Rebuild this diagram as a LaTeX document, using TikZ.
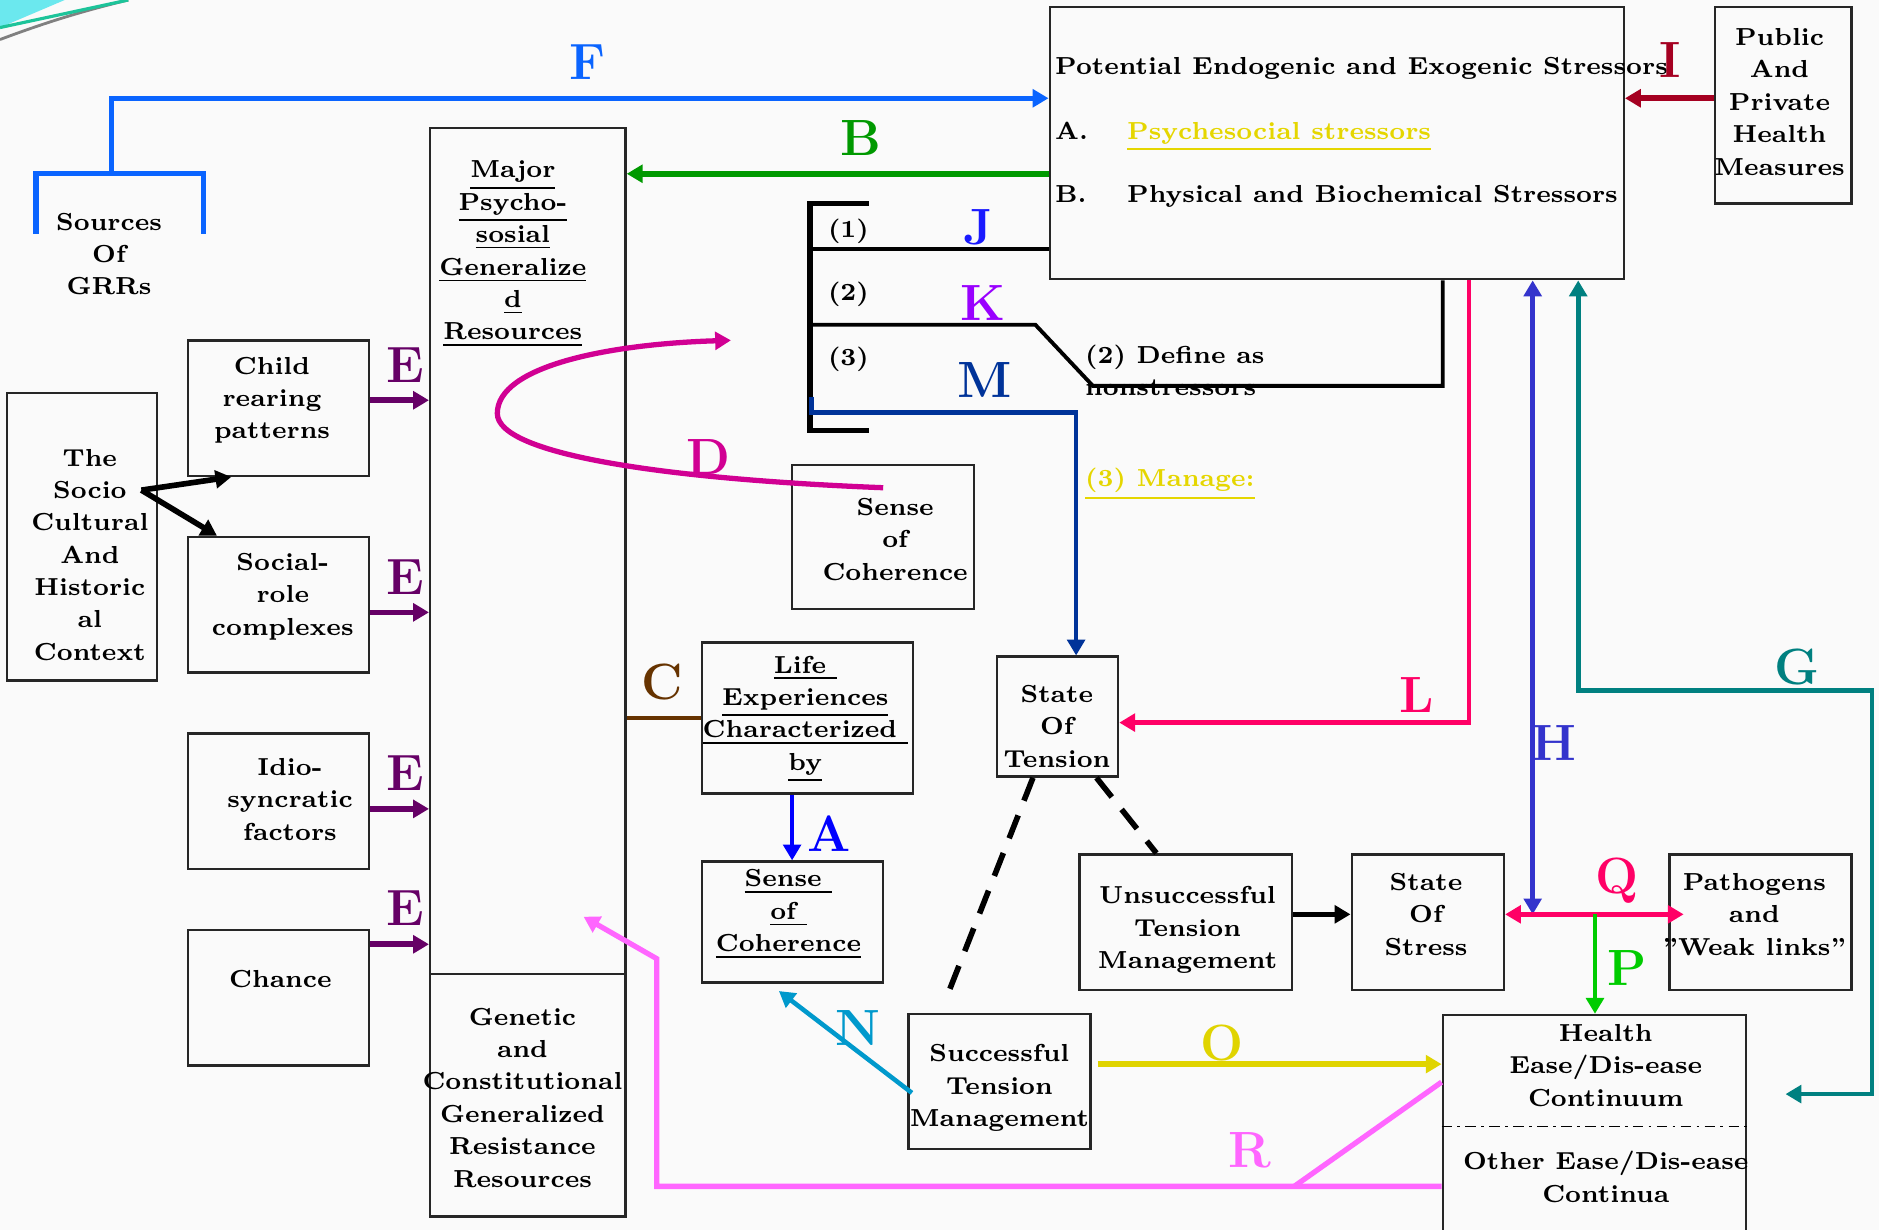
\documentclass[tikz,border=0pt]{standalone}
\usetikzlibrary{arrows.meta,fit,calc}
\definecolor{cF}{HTML}{0A64FF}
\definecolor{cB}{HTML}{009900}
\definecolor{cI}{HTML}{A50021}
\definecolor{cJ}{HTML}{1A1AFF}
\definecolor{cK}{HTML}{9900FF}
\definecolor{cM}{HTML}{003399}
\definecolor{cD}{HTML}{D10093}
\definecolor{cE}{HTML}{660066}
\definecolor{cC}{HTML}{663300}
\definecolor{cA}{HTML}{0000FF}
\definecolor{cL}{HTML}{FF0066}
\definecolor{cH}{HTML}{3333CC}
\definecolor{cG}{HTML}{008080}
\definecolor{cP}{HTML}{00CC00}
\definecolor{cO}{HTML}{E0D400}
\definecolor{cN}{HTML}{0099CC}
\definecolor{cR}{HTML}{FF66FF}
\definecolor{cY}{HTML}{E5D600}
\definecolor{cCyan}{HTML}{6BE8EE}
\definecolor{cTeal}{HTML}{1DC49A}
\newcommand{\uln}[1]{\underline{#1}}
\begin{document}
\begin{tikzpicture}[x=0.01198cm,y=-0.01198cm,
  bx/.style={draw=black!85, line width=0.7pt, inner sep=0pt},
  tx/.style={align=center, inner sep=0pt, font=\fontsize{7}{9.2}\selectfont\bfseries},
  lbl/.style={inner sep=0pt, font=\fontsize{14.5}{14.5}\selectfont\bfseries},
  arr/.style={-{Triangle[length=4.5pt,width=5pt]}},
  darr/.style={{Triangle[length=4.5pt,width=5pt]}-{Triangle[length=4.5pt,width=5pt]}},
  cw/.style={line width=1.3pt},
  tw/.style={line width=1.6pt}]
\useasboundingbox (0,0) rectangle (1568,1026);
\fill[black!2] (0,0) rectangle (1568,1026);
% slide decoration
\fill[cCyan] (0,0) -- (54,0) -- (0,23) -- cycle;
\draw[gray, line width=0.8pt] (0,33) .. controls (40,18) and (70,9) .. (107,0);
\draw[cTeal, line width=0.9pt] (0,23) -- (107,0);

% ---------- boxes ----------
\node[bx, fit={(876,6) (1355,233)}] (str) {};
\node[tx, anchor=base west] (strT) at (880,62) {Potential Endogenic and Exogenic Stressors};
\node[tx, anchor=base west] (strA) at (880,116) {A.};
\node[tx, anchor=base west, text=cY] (strAt) at (940,116) {\uln{Psychesocial stressors}};
\node[tx, anchor=base west] (strB) at (880,169) {B.};
\node[tx, anchor=base west] (strBt) at (940,169) {Physical and Biochemical Stressors};

\node[bx, fit={(1431,6) (1545,170)}] (pub) {};
\node[tx] (pubT) at (1485,85) {Public\\And\\Private\\Health\\Measures};

\node[bx, fit={(359,107) (522,813)}] (maj) {};
\node[tx] (majT) at (428,212) {\uln{Major}\\\uln{Psycho-}\\\uln{sosial}\\\uln{Generalize}\\\uln{d}\\\uln{Resources}};
\node[bx, fit={(359,813) (522,1015)}] (gen) {};
\node[tx] (genT) at (436,916) {Genetic\\and\\Constitutional\\Generalized\\Resistance\\Resources};

\node[tx] (srcT) at (91,212) {Sources\\Of\\GRRs};

\node[bx, fit={(6,328) (131,568)}] (soc) {};
\node[tx] (socT) at (75,463) {The\\Socio\\Cultural\\And\\Historic\\al\\Context};

\node[bx, fit={(157,284) (308,397)}] (child) {};
\node[tx] (childT) at (227,334) {Child\\rearing\\patterns};
\node[bx, fit={(157,448) (308,561)}] (srole) {};
\node[tx] (sroleT) at (236,498) {Social-\\role\\complexes};
\node[bx, fit={(157,612) (308,725)}] (idio) {};
\node[tx] (idioT) at (242,667) {Idio-\\syncratic\\factors};
\node[bx, fit={(157,776) (308,889)}] (chance) {};
\node[tx] (chanceT) at (234,817) {Chance};

\node[bx, fit={(661,388) (813,508)}] (soc1) {};
\node[tx] (soc1T) at (747,450) {Sense\\of\\Coherence};
\node[bx, fit={(586,536) (762,662)}] (life) {};
\node[tx] (lifeT) at (672,600) {\uln{Life }\\\uln{Experiences}\\\uln{Characterized }\\\uln{by}};
\node[bx, fit={(586,719) (737,820)}] (soc2) {};
\node[tx] (soc2T) at (658,763) {\uln{Sense }\\\uln{of }\\\uln{Coherence}};
\node[bx, fit={(832,548) (933,648)}] (ten) {};
\node[tx] (tenT) at (882,606) {State\\Of\\Tension};
\node[bx, fit={(901,713) (1078,826)}] (uns) {};
\node[tx] (unsT) at (991,776) {Unsuccessful\\Tension\\Management};
\node[bx, fit={(1128,713) (1255,826)}] (stress) {};
\node[tx] (stressT) at (1190,763) {State\\Of\\Stress};
\node[bx, fit={(1393,713) (1545,826)}] (path) {};
\node[tx] (pathT) at (1464,763) {Pathogens\\and\\”Weak links”};
\node[bx, fit={(758,846) (910,959)}] (suc) {};
\node[tx] (sucT) at (834,908) {Successful\\Tension\\Management};
\node[bx, fit={(1204,847) (1457,1045)}] (hlth) {};
\node[tx] (hlthT) at (1340,889) {Health\\Ease/Dis-ease\\Continuum};
\node[tx] (othT) at (1340,982) {Other Ease/Dis-ease\\Continua};
\draw[line width=0.5pt, dash pattern=on 3pt off 1.5pt on 0.8pt off 1.5pt] (hlth.west |- 0,940) -- (hlth.east |- 0,940);

% bracket texts
\node[tx] (n1) at (708,193) {(1)};
\node[tx] (n2) at (708,246) {(2)};
\node[tx] (n3) at (708,300) {(3)};
\node[tx, align=left, anchor=west] (defT) at (905,309) {(2) Define as\\nonstressors};
\node[tx, anchor=west, text=cY] (manT) at (905,404) {\uln{(3) Manage:}};

% ---------- coordinates ----------
\coordinate (fstem) at (93,145);
\coordinate (sc) at (118,409);
\coordinate (dstart) at (737,407);
\coordinate (dend) at (610,284);
\coordinate (hq) at (1279,763);
\coordinate (pq) at (1331,763);
\coordinate (gend) at (1490,913);
\coordinate (d1) at (790,832);
\coordinate (nend) at (650,827);
\coordinate (rend) at (487,765);

% ---------- connectors ----------
% F
\draw[cF, line width=1.5pt] (30,195) -- (30,145) -- (170,145) -- (170,195);
\draw[cF, line width=1.5pt, arr] (fstem) -- (93,82) -- (str.west |- 0,82);
% B
\draw[cB, tw, arr] (str.west |- 0,145) -- (maj.east |- 0,145);
% I
\draw[cI, tw, arr] (pub.west |- 0,82) -- (str.east |- 0,82);
% bracket J K M
\draw[line width=1.5pt] (725,170) -- (676,170) -- (676,359) -- (725,359);
\draw[line width=1pt] (676,208) -- (str.west |- 0,208);
\draw[line width=1.1pt] (676,271) -- (864,271) -- (912,322) -- (1204,322) -- (str.south -| 1204,0);
\draw[cM, cw, arr] (677,331) -- (677,344) -- (898,344) -- (ten.north -| 898,0);
% D
\draw[cD, line width=1.5pt, arr] (dstart) .. controls (560,400) and (415,380) .. (415,345) .. controls (415,305) and (510,287) .. (dend);
% C
\draw[cC, cw] (maj.east |- 0,599) -- (life.west |- 0,599);
% A
\draw[cA, cw, arr] (life.south -| 661,0) -- (soc2.north -| 661,0);
% L
\draw[cL, cw, arr] (str.south -| 1226,0) -- (1226,603) -- (ten.east |- 0,603);
% H
\draw[cH, cw, darr] (str.south -| 1279,0) -- (hq);
% G
\draw[cG, cw, darr] (str.south -| 1317,0) -- (1317,576) -- (1562,576) -- (1562,913) -- (gend);
% E
\draw[cE, tw, arr] (child.east |- 0,334) -- (maj.west |- 0,334);
\draw[cE, tw, arr] (srole.east |- 0,511) -- (maj.west |- 0,511);
\draw[cE, tw, arr] (idio.east |- 0,675) -- (maj.west |- 0,675);
\draw[cE, tw, arr] (chance.east |- 0,788) -- (maj.west |- 0,788);
% socio arrows
\draw[tw, arr] (sc) -- (child.south -| 193,0);
\draw[tw, arr] (sc) -- (srole.north -| 181,0);
% dashed
\draw[tw, dash pattern=on 7pt off 4.5pt] (ten.south -| 862,0) -- (d1);
\draw[tw, dash pattern=on 7pt off 4.5pt] (ten.south -| 915,0) -- (uns.north -| 965,0);
% unsuccessful -> stress
\draw[tw, arr] (uns.east |- 0,763) -- (stress.west |- 0,763);
% Q
\draw[cL, tw, darr] (stress.east |- 0,763) -- ($(path.west |- 0,763)+(13,0)$);
% P
\draw[cP, cw, arr] (pq) -- (hlth.north -| 1331,0);
% O
\draw[cO, tw, arr] ($(suc.east |- 0,888)+(5,0)$) -- (hlth.west |- 0,888);
% N
\draw[cN, cw, arr] ($(suc.west |- 0,912)+(4,0)$) -- (nend);
% R
\draw[cR, line width=1.5pt] (hlth.west |- 0,903) -- (1080,990);
\draw[cR, line width=1.5pt, arr] (hlth.west |- 0,990) -- (548,990) -- (548,800) -- (rend);

% ---------- letter labels ----------
\node[lbl, text=cF] (lF) at (490,52) {F};
\node[lbl, text=cB] (lB) at (718,115) {B};
\node[lbl, text=cI] (lI) at (1394,50) {I};
\node[lbl, text=cJ] (lJ) at (816,190) {J};
\node[lbl, text=cK] (lK) at (820,253) {K};
\node[lbl, text=cM] (lM) at (822,317) {M};
\node[lbl, text=cD] (lD) at (591,381) {D};
\node[lbl, text=cE] (lE1) at (338,305) {E};
\node[lbl, text=cE] (lE2) at (338,482) {E};
\node[lbl, text=cE] (lE3) at (338,645) {E};
\node[lbl, text=cE] (lE4) at (338,758) {E};
\node[lbl, text=cC] (lC) at (553,569) {C};
\node[lbl, text=cA] (lA) at (692,696) {A};
\node[lbl, text=cL] (lL) at (1182,580) {L};
\node[lbl, text=cH] (lH) at (1297,620) {H};
\node[lbl, text=cG] (lG) at (1500,557) {G};
\node[lbl, text=cL] (lQ) at (1349,735) {Q};
\node[lbl, text=cP] (lP) at (1358,808) {P};
\node[lbl, text=cO] (lO) at (1020,870) {O};
\node[lbl, text=cN] (lN) at (716,858) {N};
\node[lbl, text=cR] (lR) at (1043,960) {R};
\end{tikzpicture}
\end{document}
